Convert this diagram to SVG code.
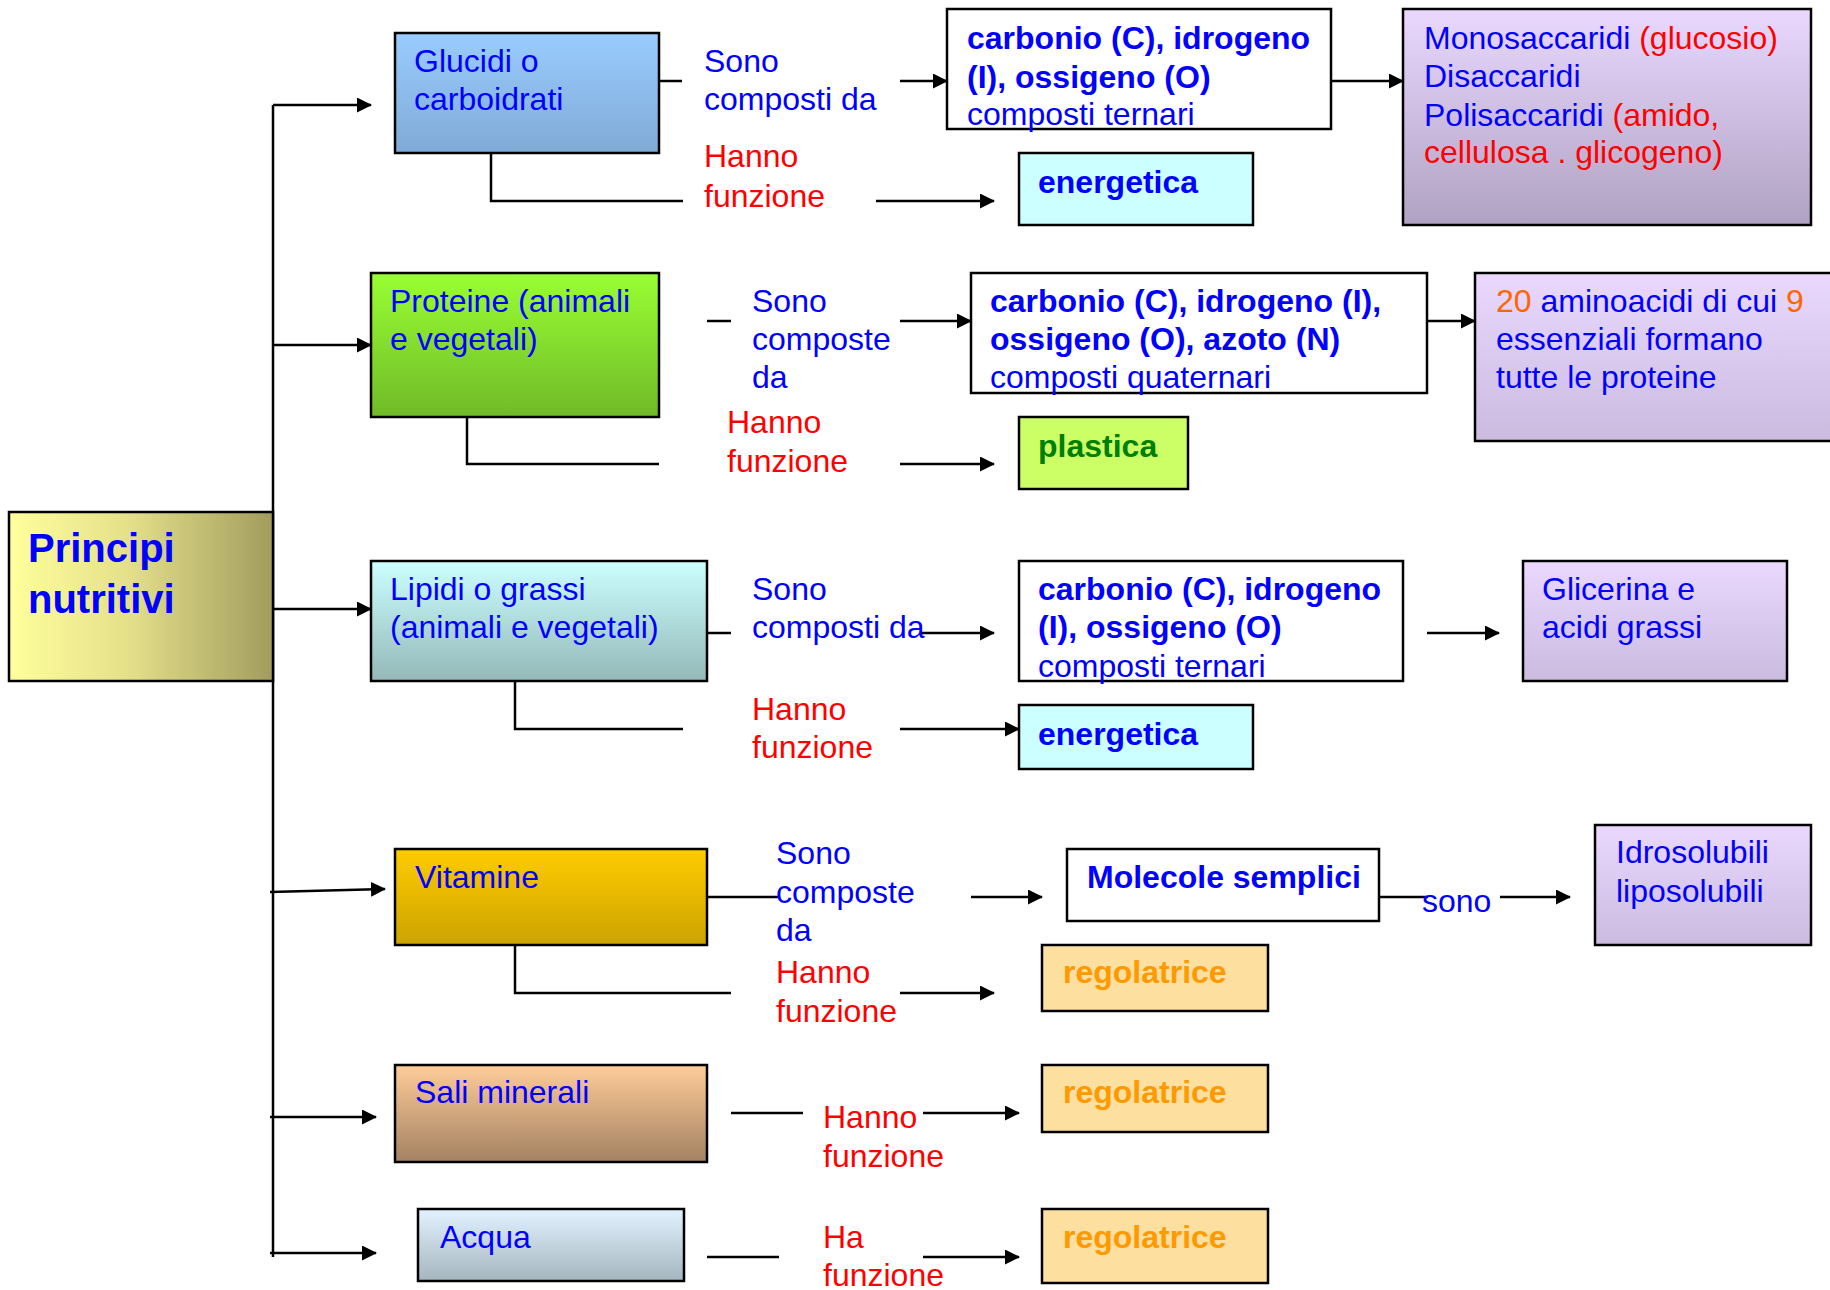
<svg xmlns="http://www.w3.org/2000/svg" width="1830" height="1290" viewBox="0 0 1830 1290">
<defs>
<linearGradient id="gPrin" x1="0" y1="0" x2="1" y2="0"><stop offset="0" stop-color="#ffff9c"/><stop offset="0.45" stop-color="#e4e08a"/><stop offset="1" stop-color="#a19c5e"/></linearGradient>
<linearGradient id="gGlu" x1="0" y1="0" x2="0" y2="1"><stop offset="0" stop-color="#99ccff"/><stop offset="1" stop-color="#80aad6"/></linearGradient>
<linearGradient id="gPro" x1="0" y1="0" x2="0" y2="1"><stop offset="0" stop-color="#99ff33"/><stop offset="1" stop-color="#70ba28"/></linearGradient>
<linearGradient id="gLip" x1="0" y1="0" x2="0" y2="1"><stop offset="0" stop-color="#ccffff"/><stop offset="1" stop-color="#94b8b8"/></linearGradient>
<linearGradient id="gVit" x1="0" y1="0" x2="0" y2="1"><stop offset="0" stop-color="#ffcc00"/><stop offset="1" stop-color="#cca300"/></linearGradient>
<linearGradient id="gSal" x1="0" y1="0" x2="0" y2="1"><stop offset="0" stop-color="#ffcc99"/><stop offset="1" stop-color="#a38262"/></linearGradient>
<linearGradient id="gAcq" x1="0" y1="0" x2="0" y2="1"><stop offset="0" stop-color="#e2f2ff"/><stop offset="1" stop-color="#a6b6bf"/></linearGradient>
<linearGradient id="gPur" x1="0" y1="0" x2="0" y2="1"><stop offset="0" stop-color="#ead8ff"/><stop offset="1" stop-color="#b0a2c2"/></linearGradient>
<linearGradient id="gPur2" x1="0" y1="0" x2="0" y2="1"><stop offset="0" stop-color="#ead8ff"/><stop offset="1" stop-color="#cbbbdf"/></linearGradient>
<marker id="ah" markerUnits="userSpaceOnUse" markerWidth="15" markerHeight="15" refX="14" refY="7.5" orient="auto" viewBox="0 0 15 15"><path d="M0,0 L15,7.5 L0,15 z" fill="#000"/></marker>
</defs>
<style>
.box{stroke:#000;stroke-width:2.5}
.ln{stroke:#000;stroke-width:2.5;fill:none}
.ar{stroke:#000;stroke-width:2.5;fill:none;marker-end:url(#ah)}
.t{font-family:"Liberation Sans",Arial,sans-serif;font-size:32px}
.b{font-family:"Liberation Sans",Arial,sans-serif;font-size:32px;font-weight:bold}
.blue{fill:#0000ff}
.red{fill:#ff0000}
.org{fill:#ff6600}
.reg{fill:#ff9900}
.grn{fill:#008000}
</style>
<rect width="1830" height="1290" fill="#fff"/>

<g id="connectors">
<polyline class="ln" points="273,1257 273,105"/>
<line class="ar" x1="273" y1="105" x2="371" y2="105"/>
<line class="ar" x1="273" y1="345" x2="371" y2="345"/>
<line class="ar" x1="273" y1="609" x2="371" y2="609"/>
<line class="ar" x1="270" y1="892" x2="385" y2="889"/>
<line class="ar" x1="270" y1="1117" x2="376" y2="1117"/>
<line class="ar" x1="270" y1="1253" x2="376" y2="1253"/>
<!-- Glucidi -->
<line class="ln" x1="659" y1="81" x2="682" y2="81"/>
<line class="ar" x1="900" y1="81" x2="947" y2="81"/>
<line class="ar" x1="1331" y1="81" x2="1403" y2="81"/>
<polyline class="ln" points="491,153 491,201 683,201"/>
<line class="ar" x1="876" y1="201" x2="994" y2="201"/>
<!-- Proteine -->
<line class="ln" x1="707" y1="321" x2="731" y2="321"/>
<line class="ar" x1="900" y1="321" x2="971" y2="321"/>
<line class="ar" x1="1427" y1="321" x2="1475" y2="321"/>
<polyline class="ln" points="467,417 467,464 659,464"/>
<line class="ar" x1="900" y1="464" x2="994" y2="464"/>
<!-- Lipidi -->
<line class="ln" x1="707" y1="633" x2="731" y2="633"/>
<line class="ar" x1="920" y1="633" x2="994" y2="633"/>
<line class="ar" x1="1427" y1="633" x2="1499" y2="633"/>
<polyline class="ln" points="515,681 515,729 683,729"/>
<line class="ar" x1="900" y1="729" x2="1019" y2="729"/>
<!-- Vitamine -->
<line class="ln" x1="707" y1="897" x2="778" y2="897"/>
<line class="ar" x1="971" y1="897" x2="1042" y2="897"/>
<line class="ln" x1="1379" y1="897" x2="1428" y2="897"/>
<line class="ar" x1="1500" y1="897" x2="1570" y2="897"/>
<polyline class="ln" points="515,945 515,993 731,993"/>
<line class="ar" x1="900" y1="993" x2="994" y2="993"/>
<!-- Sali -->
<line class="ln" x1="731" y1="1113" x2="803" y2="1113"/>
<line class="ar" x1="923" y1="1113" x2="1019" y2="1113"/>
<!-- Acqua -->
<line class="ln" x1="707" y1="1257" x2="779" y2="1257"/>
<line class="ar" x1="923" y1="1257" x2="1019" y2="1257"/>
</g>

<g id="labels">
<text class="t blue"><tspan x="704" y="72">Sono</tspan><tspan x="704" y="110">composti da</tspan></text>
<text class="t red"><tspan x="704" y="167">Hanno</tspan><tspan x="704" y="207">funzione</tspan></text>
<text class="t blue"><tspan x="752" y="312">Sono</tspan><tspan x="752" y="350">composte</tspan><tspan x="752" y="388">da</tspan></text>
<text class="t red"><tspan x="727" y="433">Hanno</tspan><tspan x="727" y="472">funzione</tspan></text>
<text class="t blue"><tspan x="752" y="600">Sono</tspan><tspan x="752" y="638">composti da</tspan></text>
<text class="t red"><tspan x="752" y="720">Hanno</tspan><tspan x="752" y="758">funzione</tspan></text>
<text class="t blue"><tspan x="776" y="864">Sono</tspan><tspan x="776" y="903">composte</tspan><tspan x="776" y="941">da</tspan></text>
<text class="t blue" x="1422" y="912">sono</text>
<text class="t red"><tspan x="776" y="983">Hanno</tspan><tspan x="776" y="1022">funzione</tspan></text>
<text class="t red"><tspan x="823" y="1128">Hanno</tspan><tspan x="823" y="1167">funzione</tspan></text>
<text class="t red"><tspan x="823" y="1248">Ha</tspan><tspan x="823" y="1286">funzione</tspan></text>
</g>

<g id="principi">
<rect class="box" x="9" y="512" width="264" height="169" fill="url(#gPrin)"/>
<text class="b blue" style="font-size:40px"><tspan x="28" y="562">Principi</tspan><tspan x="28" y="613">nutritivi</tspan></text>
</g>

<g id="glucidi">
<rect class="box" x="395" y="33" width="264" height="120" fill="url(#gGlu)"/>
<text class="t blue"><tspan x="414" y="72">Glucidi o</tspan><tspan x="414" y="110">carboidrati</tspan></text>
</g>
<g id="composti-glucidi">
<rect class="box" x="947" y="9" width="384" height="120" fill="#fff"/>
<text class="b blue"><tspan x="967" y="49">carbonio (C), idrogeno</tspan><tspan x="967" y="88">(I), ossigeno (O)</tspan></text>
<text class="t blue" x="967" y="125">composti ternari</text>
</g>
<g id="monosaccaridi">
<rect class="box" x="1403" y="9" width="408" height="216" fill="url(#gPur)"/>
<text class="t"><tspan x="1424" y="49" class="blue">Monosaccaridi </tspan><tspan class="red">(glucosio)</tspan></text>
<text class="t blue" x="1424" y="87">Disaccaridi</text>
<text class="t"><tspan x="1424" y="126" class="blue">Polisaccaridi </tspan><tspan class="red">(amido,</tspan></text>
<text class="t red" x="1424" y="163">cellulosa . glicogeno)</text>
</g>
<g id="energetica-1">
<rect class="box" x="1019" y="153" width="234" height="72" fill="#ccffff"/>
<text class="b blue" x="1038" y="193">energetica</text>
</g>

<g id="proteine">
<rect class="box" x="371" y="273" width="288" height="144" fill="url(#gPro)"/>
<text class="t blue"><tspan x="390" y="312">Proteine (animali</tspan><tspan x="390" y="350">e vegetali)</tspan></text>
</g>
<g id="composti-proteine">
<rect class="box" x="971" y="273" width="456" height="120" fill="#fff"/>
<text class="b blue"><tspan x="990" y="312">carbonio (C), idrogeno (I),</tspan><tspan x="990" y="350">ossigeno (O), azoto (N)</tspan></text>
<text class="t blue" x="990" y="388">composti quaternari</text>
</g>
<g id="aminoacidi">
<rect class="box" x="1475" y="273" width="358" height="168" fill="url(#gPur2)"/>
<text class="t"><tspan x="1496" y="312" class="org">20</tspan><tspan class="blue"> aminoacidi di cui </tspan><tspan class="org">9</tspan></text>
<text class="t blue"><tspan x="1496" y="350">essenziali formano</tspan><tspan x="1496" y="388">tutte le proteine</tspan></text>
</g>
<g id="plastica">
<rect class="box" x="1019" y="417" width="169" height="72" fill="#ccff66"/>
<text class="b grn" x="1038" y="457">plastica</text>
</g>

<g id="lipidi">
<rect class="box" x="371" y="561" width="336" height="120" fill="url(#gLip)"/>
<text class="t blue"><tspan x="390" y="600">Lipidi o grassi</tspan><tspan x="390" y="638">(animali e vegetali)</tspan></text>
</g>
<g id="composti-lipidi">
<rect class="box" x="1019" y="561" width="384" height="120" fill="#fff"/>
<text class="b blue"><tspan x="1038" y="600">carbonio (C), idrogeno</tspan><tspan x="1038" y="638">(I), ossigeno (O)</tspan></text>
<text class="t blue" x="1038" y="677">composti ternari</text>
</g>
<g id="glicerina">
<rect class="box" x="1523" y="561" width="264" height="120" fill="url(#gPur2)"/>
<text class="t blue"><tspan x="1542" y="600">Glicerina e</tspan><tspan x="1542" y="638">acidi grassi</tspan></text>
</g>
<g id="energetica-2">
<rect class="box" x="1019" y="705" width="234" height="64" fill="#ccffff"/>
<text class="b blue" x="1038" y="745">energetica</text>
</g>

<g id="vitamine">
<rect class="box" x="395" y="849" width="312" height="96" fill="url(#gVit)"/>
<text class="t blue" x="415" y="888">Vitamine</text>
</g>
<g id="molecole">
<rect class="box" x="1067" y="849" width="312" height="72" fill="#fff"/>
<text class="b blue" x="1087" y="888">Molecole semplici</text>
</g>
<g id="idrosolubili">
<rect class="box" x="1595" y="825" width="216" height="120" fill="url(#gPur2)"/>
<text class="t blue"><tspan x="1616" y="863">Idrosolubili</tspan><tspan x="1616" y="902">liposolubili</tspan></text>
</g>
<g id="regolatrice-1">
<rect class="box" x="1042" y="945" width="226" height="66" fill="#fde0a0"/>
<text class="b reg" x="1063" y="983">regolatrice</text>
</g>

<g id="sali">
<rect class="box" x="395" y="1065" width="312" height="97" fill="url(#gSal)"/>
<text class="t blue" x="415" y="1103">Sali minerali</text>
</g>
<g id="regolatrice-2">
<rect class="box" x="1042" y="1065" width="226" height="67" fill="#fde0a0"/>
<text class="b reg" x="1063" y="1103">regolatrice</text>
</g>

<g id="acqua">
<rect class="box" x="418" y="1209" width="266" height="72" fill="url(#gAcq)"/>
<text class="t blue" x="440" y="1248">Acqua</text>
</g>
<g id="regolatrice-3">
<rect class="box" x="1042" y="1209" width="226" height="74" fill="#fde0a0"/>
<text class="b reg" x="1063" y="1248">regolatrice</text>
</g>
</svg>
